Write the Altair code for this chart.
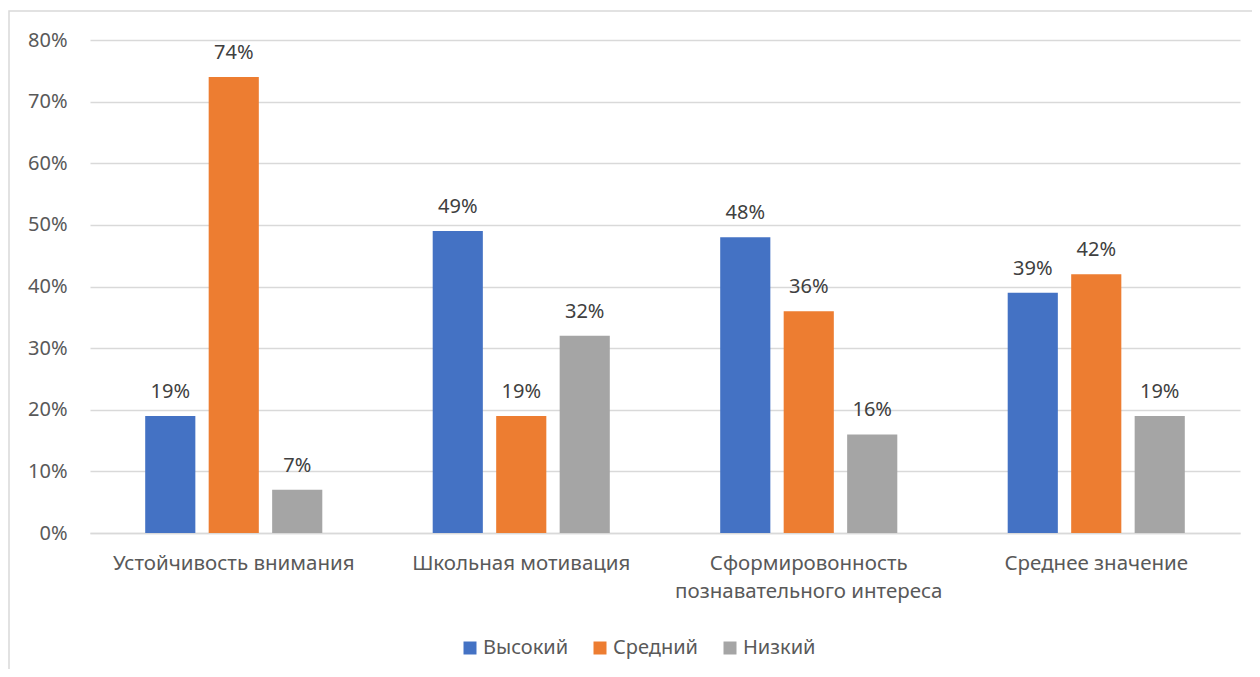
import altair as alt
import pandas as pd

categories = [
    "Устойчивость внимания",
    "Школьная мотивация",
    "Сформировонность\nпознавательного интереса",
    "Среднее значение",
]
levels = ["Высокий", "Средний", "Низкий"]
high = [19, 49, 48, 39]
mid = [74, 19, 36, 42]
low = [7, 32, 16, 19]
colors = ["#4472C4", "#ED7D31", "#A5A5A5"]
y_ticks = [0, 10, 20, 30, 40, 50, 60, 70, 80]

rows = []
for i, c in enumerate(categories):
    for lvl, series in zip(levels, [high, mid, low]):
        rows.append({"category": c, "level": lvl, "value": series[i]})
df = pd.DataFrame(rows)

FONT = "Noto Sans"
GRID = "#d9d9d9"

x_enc = alt.X(
    "category:N",
    sort=categories,
    scale=alt.Scale(paddingInner=0.384, paddingOuter=0.192),
    axis=alt.Axis(
        title=None,
        labelAngle=0,
        labelFontSize=20.5,
        labelFont=FONT,
        labelColor="#595959",
        labelPadding=20,
        labelLineHeight=28,
        labelExpr="split(datum.label, '\\n')",
        ticks=False,
        domainColor=GRID,
        domainWidth=1.3,
        labelLimit=400,
    ),
)
xoff = alt.XOffset("level:N", sort=levels, scale=alt.Scale(paddingInner=0.21, paddingOuter=0))
y_enc = alt.Y(
    "value:Q",
    scale=alt.Scale(domain=[0, 80], nice=False),
    axis=alt.Axis(
        title=None,
        values=y_ticks,
        labelExpr="datum.value + '%'",
        labelFontSize=20,
        labelFont=FONT,
        labelColor="#595959",
        labelPadding=23,
        ticks=False,
        domain=False,
        gridColor=GRID,
        gridWidth=1.3,
    ),
)

base = alt.Chart(df)

bars = base.mark_bar().encode(
    x=x_enc,
    xOffset=xoff,
    y=y_enc,
    color=alt.Color(
        "level:N",
        sort=levels,
        scale=alt.Scale(domain=levels, range=colors),
        legend=alt.Legend(
            title=None,
            orient="none",
            direction="horizontal",
            legendX=370,
            legendY=598,
            symbolType="square",
            symbolSize=169,
            symbolStrokeWidth=0,
            symbolOpacity=1,
            labelFontSize=20,
            labelFont=FONT,
            labelColor="#595959",
            labelOffset=3,
            columnPadding=21,
        ),
    ),
)

labels = base.mark_text(
    baseline="alphabetic", dy=-18, fontSize=20, font=FONT, color="#404040"
).transform_calculate(lbl="datum.value + '%'").encode(
    x=x_enc,
    xOffset=xoff,
    y=y_enc,
    text="lbl:N",
)

frame = alt.Chart(pd.DataFrame({"f": [0]})).mark_rect(
    fill=None, stroke=GRID, strokeWidth=1.5
).encode(
    x=alt.value(-81), x2=alt.value(1400), y=alt.value(-29), y2=alt.value(800)
)

chart = alt.layer(frame, bars, labels).properties(
    width=1150,
    height=493,
    autosize=alt.AutoSizeParams(type="none"),
    padding={"left": 82, "top": 32, "right": 12, "bottom": 136},
).configure_view(stroke=None)

chart.save("out.html", embed_options={"renderer": "svg", "actions": False})
